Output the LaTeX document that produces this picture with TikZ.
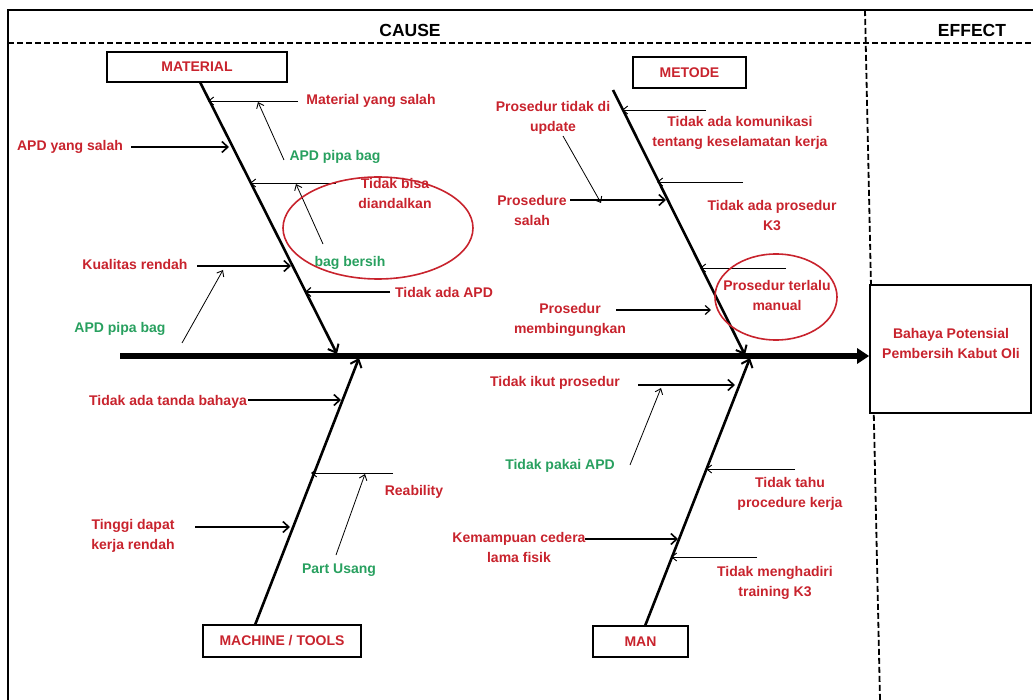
\documentclass[tikz,border=0pt]{standalone}
\usepackage{fontspec}
\setmainfont{Liberation Sans}
\usetikzlibrary{arrows.meta,shapes.geometric}
\definecolor{cred}{RGB}{200,35,45}
\definecolor{cgreen}{RGB}{40,160,95}
\begin{document}
\begin{tikzpicture}[x=1pt,y=-1pt,
  lbl/.style={text=cred,font=\bfseries\fontsize{14}{20}\selectfont,align=center,inner sep=1pt},
  glbl/.style={lbl,text=cgreen},
  head/.style={font=\bfseries\fontsize{17.5}{20}\selectfont,inner sep=1pt},
  catbox/.style={draw,line width=1.4pt,text=cred,font=\bfseries\fontsize{14}{16}\selectfont,inner sep=0pt},
  bone/.style={line width=2.6pt,-{Straight Barb[length=7pt,width=12pt,line width=2pt]}},
  bigarrow/.style={line width=2pt,-{Straight Barb[length=6pt,width=11pt,line width=1.6pt]}},
  thinarrow/.style={line width=0.8pt,-{Straight Barb[length=5pt,width=8pt,line width=0.9pt]}},
  spine/.style={line width=6pt,-{Triangle[length=12pt,width=15pt]}},
  dashline/.style={line width=1.8pt,dash pattern=on 6pt off 3pt},
  oval/.style={draw=cred,line width=1.6pt}]
\useasboundingbox (0,0) rectangle (1033,700);
% frame
\coordinate (f0) at (8,700);
\coordinate (f1) at (8,10);
\coordinate (f2) at (1033,10);
\draw[line width=1.4pt] (f0) -- (f1) -- (f2);
\coordinate (h0) at (8,43);
\coordinate (h1) at (1033,43);
\draw[dashline] (h0) -- (h1);
\coordinate (v0) at (865,10);
\coordinate (v1) at (880,700);
\draw[dashline] (v0) -- (v1);
\node[head] (cause) at (410,30) {CAUSE};
\node[head] (effect) at (972,30) {EFFECT};

% effect box
\node[draw,fill=white,line width=1.6pt,minimum width=161,minimum height=128,inner sep=0pt] (eff) at (950.5,349) {};
\node[lbl] (efftxt) at (951,343) {Bahaya Potensial\\Pembersih Kabut Oli};

% spine
\coordinate (s0) at (120,356);
\draw[spine] (s0) -- (s0 -| eff.west);

% category boxes
\node[catbox,minimum width=180,minimum height=30] (mat) at (197,67) {MATERIAL};
\node[catbox,minimum width=113,minimum height=31] (met) at (689.5,72.5) {METODE};
\node[catbox,minimum width=158,minimum height=32] (mac) at (282,641) {MACHINE / TOOLS};
\node[catbox,minimum width=95,minimum height=31] (man) at (640.5,641.5) {MAN};

% bones
\coordinate (ma0) at (200,82);  \coordinate (ma1) at (337,354);
\coordinate (me0) at (613,90);  \coordinate (me1) at (745,355);
\coordinate (mc0) at (255,625); \coordinate (mc1) at (359,358);
\coordinate (mn0) at (645,626); \coordinate (mn1) at (750,358);
\draw[bone] (ma0) -- (ma1);
\draw[bone] (me0) -- (me1);
\draw[bone] (mc0) -- (mc1);
\draw[bone] (mn0) -- (mn1);

% ---------- MATERIAL ----------
\node[lbl] (t1) at (371,101) {Material yang salah};
\coordinate (a1s) at (298,101); \coordinate (a1e) at (208,101);
\draw[thinarrow] (a1s) -- (a1e);
\node[glbl] (t2) at (335,157) {APD pipa bag};
\coordinate (a2s) at (284,160); \coordinate (a2e) at (258,102);
\draw[thinarrow] (a2s) -- (a2e);
\node[lbl] (t3) at (70,147) {APD yang salah};
\coordinate (a3s) at (131,147); \coordinate (a3e) at (229,147);
\draw[bigarrow] (a3s) -- (a3e);
\node[lbl] (t4) at (395,193) {Tidak bisa\\diandalkan};
\coordinate (a4s) at (336,183); \coordinate (a4e) at (250,183);
\draw[thinarrow] (a4s) -- (a4e);
\coordinate (a5s) at (323,244); \coordinate (a5e) at (296,184);
\draw[thinarrow] (a5s) -- (a5e);
\node[glbl] (t5) at (350,263) {bag bersih};
\node[oval,ellipse,minimum width=190,minimum height=102] (ov1) at (378,228) {};
\node[lbl] (t6) at (135,264) {Kualitas rendah};
\coordinate (a6s) at (197,266); \coordinate (a6e) at (291,266);
\draw[bigarrow] (a6s) -- (a6e);
\node[glbl] (t7) at (120,329) {APD pipa bag};
\coordinate (a7s) at (182,343); \coordinate (a7e) at (223,270);
\draw[thinarrow] (a7s) -- (a7e);
\node[lbl] (t8) at (444,292) {Tidak ada APD};
\coordinate (a8s) at (390,292); \coordinate (a8e) at (305,292);
\draw[line width=1.4pt,-{Straight Barb[length=5pt,width=9pt,line width=1.2pt]}] (a8s) -- (a8e);

% ---------- METODE ----------
\node[lbl] (u1) at (553,118) {Prosedur tidak di\\update};
\coordinate (b1s) at (563,136); \coordinate (b1e) at (601,203);
\draw[thinarrow] (b1s) -- (b1e);
\node[lbl] (u2) at (740,133) {Tidak ada komunikasi\\tentang keselamatan kerja};
\coordinate (b2s) at (706,110); \coordinate (b2e) at (622,110);
\draw[thinarrow] (b2s) -- (b2e);
\node[lbl] (u3) at (532,210) {Prosedure\\salah};
\coordinate (b3s) at (570,200); \coordinate (b3e) at (666,200);
\draw[bigarrow] (b3s) -- (b3e);
\node[lbl] (u4) at (772,216) {Tidak ada prosedur\\K3};
\coordinate (b4s) at (743,182); \coordinate (b4e) at (657,182);
\draw[thinarrow] (b4s) -- (b4e);
\coordinate (b5s) at (786,268); \coordinate (b5e) at (700,268);
\draw[thinarrow] (b5s) -- (b5e);
\node[lbl] (u5) at (777,295) {Prosedur terlalu\\manual};
\node[oval,ellipse,minimum width=122,minimum height=86] (ov2) at (776,297) {};
\node[lbl] (u6) at (570,320) {Prosedur\\membingungkan};
\coordinate (b6s) at (616,310); \coordinate (b6e) at (711,310);
\draw[line width=1.4pt,-{Straight Barb[length=5pt,width=9pt,line width=1.2pt]}] (b6s) -- (b6e);

% ---------- MACHINE ----------
\node[lbl] (w1) at (168,402) {Tidak ada tanda bahaya};
\coordinate (c1s) at (248,400); \coordinate (c1e) at (341,400);
\draw[bigarrow] (c1s) -- (c1e);
\coordinate (c2s) at (393,473); \coordinate (c2e) at (311,473);
\draw[thinarrow] (c2s) -- (c2e);
\node[lbl] (w2) at (414,492) {Reability};
\coordinate (c3s) at (336,555); \coordinate (c3e) at (365,474);
\draw[thinarrow] (c3s) -- (c3e);
\node[glbl] (w3) at (339,570) {Part Usang};
\node[lbl] (w4) at (133,536) {Tinggi dapat\\kerja rendah};
\coordinate (c4s) at (195,527); \coordinate (c4e) at (290,527);
\draw[bigarrow] (c4s) -- (c4e);

% ---------- MAN ----------
\node[lbl] (z1) at (555,383) {Tidak ikut prosedur};
\coordinate (d1s) at (638,385); \coordinate (d1e) at (735,385);
\draw[bigarrow] (d1s) -- (d1e);
\coordinate (d2s) at (630,465); \coordinate (d2e) at (661,388);
\draw[thinarrow] (d2s) -- (d2e);
\node[glbl] (z2) at (560,466) {Tidak pakai APD};
\coordinate (d3s) at (795,469); \coordinate (d3e) at (706,469);
\draw[thinarrow] (d3s) -- (d3e);
\node[lbl] (z3) at (790,494) {Tidak tahu\\procedure kerja};
\node[lbl] (z4) at (519,547) {Kemampuan cedera\\lama fisik};
\coordinate (d4s) at (585,539); \coordinate (d4e) at (678,539);
\draw[bigarrow] (d4s) -- (d4e);
\coordinate (d5s) at (757,557); \coordinate (d5e) at (671,557);
\draw[thinarrow] (d5s) -- (d5e);
\node[lbl] (z5) at (775,583) {Tidak menghadiri\\training K3};
\end{tikzpicture}
\end{document}
